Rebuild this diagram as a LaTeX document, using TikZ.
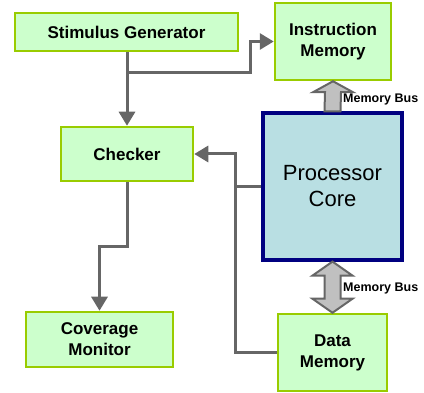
\documentclass[tikz,border=0pt]{standalone}
\usepackage{fontspec}
\setmainfont{Liberation Sans}
\usetikzlibrary{arrows.meta,calc}

\definecolor{boxfill}{HTML}{CCFFCC}
\definecolor{boxedge}{HTML}{99CC00}
\definecolor{corefill}{HTML}{B9DFE3}
\definecolor{coreedge}{HTML}{000080}
\definecolor{wire}{HTML}{666666}
\definecolor{busfill}{HTML}{C0C0C0}

\tikzset{
  unit/.style={draw=boxedge, fill=boxfill, line width=2.5pt, rectangle,
    inner sep=0pt, align=center,
    font=\fontsize{17}{21}\selectfont\bfseries},
  corebox/.style={draw=coreedge, fill=corefill, line width=3.2pt, rectangle,
    inner sep=0pt, align=center, font=\fontsize{22}{26}\selectfont},
  wireline/.style={draw=wire, line width=3pt},
  wirearrow/.style={wireline, -{Triangle[length=14pt,width=16pt]}},
  busarrow/.style={draw=wire, fill=busfill, line width=2pt, line join=miter},
  buslabel/.style={anchor=west, inner sep=0pt, font=\fontsize{12.5}{14}\selectfont\bfseries}
}

\begin{document}
\begin{tikzpicture}[x=1pt, y=-1pt]
  \useasboundingbox (0,0) rectangle (424,393);

  % blocks
  \node[unit, minimum width=223pt, minimum height=38pt] (stim) at (126.5,32) {Stimulus Generator};
  \node[unit, minimum width=116pt, minimum height=77pt] (instr) at (333,41.5) {Instruction\\Memory};
  \node[unit, minimum width=132pt, minimum height=54pt] (check) at (127,154) {Checker};
  \node[corebox, minimum width=139pt, minimum height=147pt] (core) at (332.5,186.5) {Processor\\Core};
  \node[unit, minimum width=147pt, minimum height=55pt] (cover) at (99.5,339.5) {Coverage\\Monitor};
  \node[unit, minimum width=109pt, minimum height=77pt] (data) at (332.5,352.5) {Data\\Memory};

  % routing points
  \coordinate (split) at (127,73);
  \coordinate (jog) at (250,73);
  \coordinate (tap) at (235,154);
  \coordinate (drop) at (127,247);

  % stimulus generator outputs
  \draw[wirearrow] (check.north |- stim.south) -- (check.north);
  \draw[wirearrow] (split) -- (jog) |- (instr.west);

  % core and data memory feed the checker
  \draw[wirearrow] (data.west) -| (tap) -- (check.east);
  \draw[wireline] (core.west) -- (core.west -| tap);

  % checker to coverage monitor
  \draw[wirearrow] (check.south) -- (drop) -| (cover.north);

  % memory buses
  \draw[busarrow]
    ($(core.north)+(-8,0)$) -- ($(instr.south)+(-8,11)$) -- ($(instr.south)+(-20,11)$)
    -- (instr.south) -- ($(instr.south)+(20,11)$) -- ($(instr.south)+(8,11)$)
    -- ($(core.north)+(8,0)$) -- cycle;
  \draw[busarrow]
    (core.south) -- ($(core.south)+(20,14)$) -- ($(core.south)+(8,14)$)
    -- ($(data.north)+(8,-14)$) -- ($(data.north)+(20,-14)$) -- (data.north)
    -- ($(data.north)+(-20,-14)$) -- ($(data.north)+(-8,-14)$)
    -- ($(core.south)+(-8,14)$) -- ($(core.south)+(-20,14)$) -- cycle;

  \node[buslabel] (busA) at ($(core.north)+(10.5,-12)$) {Memory Bus};
  \node[buslabel] (busB) at ($(core.south)+(10.5,27)$) {Memory Bus};
\end{tikzpicture}
\end{document}
